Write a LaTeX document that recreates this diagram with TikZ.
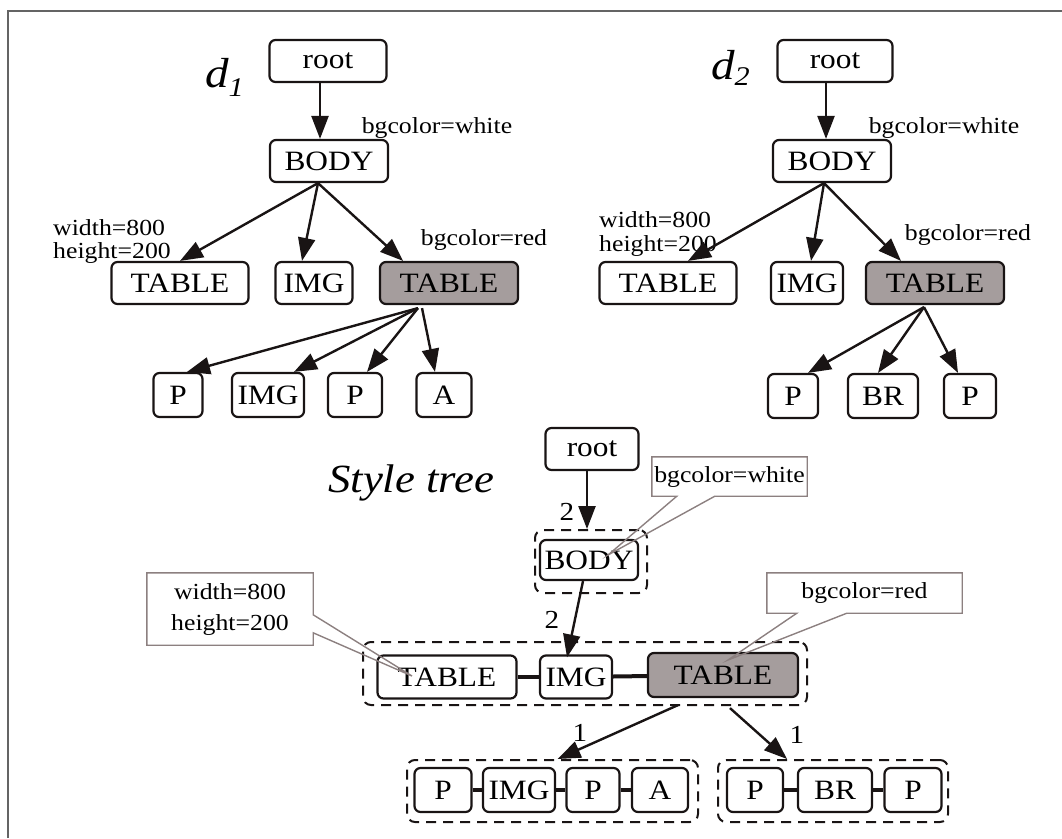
\documentclass[tikz,border=0pt]{standalone}
\usepackage{fontspec}
\setmainfont{Liberation Serif}[FakeStretch=1.12]
\usetikzlibrary{arrows.meta,calc}
\definecolor{boxc}{RGB}{25,20,20}
\definecolor{callc}{RGB}{140,128,128}
\definecolor{tablefill}{RGB}{165,157,157}
\definecolor{framec}{RGB}{100,100,100}
\newcommand\nodefont{\fontsize{28}{30}\selectfont}
\newcommand\lblfont{\fontsize{23}{25}\selectfont}
\newcommand\numfont{\fontsize{26}{28}\selectfont}
\begin{document}
\begin{tikzpicture}[x=1pt,y=-1pt,
  box/.style={draw=boxc, line width=2.2, rounded corners=6, minimum height=42, inner sep=0, font=\nodefont},
  shaded/.style={box, fill=tablefill},
  lbl/.style={font=\lblfont, inner sep=0},
  num/.style={font=\numfont, inner sep=0},
  arr/.style={draw=boxc, line width=2.4, -{Triangle[length=23,width=17]}},
  grp/.style={draw=boxc, line width=2, dash pattern=on 10pt off 7pt, rounded corners=8, inner sep=0},
  link/.style={draw=boxc, line width=4},
  call/.style={draw=callc, line width=1.4},
  calltext/.style={font=\lblfont, inner sep=0, align=center}]
\useasboundingbox (0,0) rectangle (1062,838);
\draw[framec, line width=1.8] (8,838) -- (8,11) -- (1062,11);

% ---------------- d1 ----------------
\node[anchor=base west, inner sep=0, font=\fontsize{42}{42}\selectfont\itshape] (d1) at (205,87) {d\raisebox{-0.22em}{\fontsize{27}{27}\selectfont 1}};
\node[box, minimum width=117] (r1) at (328,61) {root};
\node[box, minimum width=118] (b1) at (329,161) {BODY};
\node[box, minimum width=137] (t1a) at (180,283) {TABLE};
\node[box, minimum width=77] (i1) at (314,283) {IMG};
\node[shaded, minimum width=138] (t1b) at (449,283) {TABLE};
\node[box, minimum width=49, minimum height=44] (p1a) at (178,395) {P};
\node[box, minimum width=72, minimum height=44] (i1b) at (268,395) {IMG};
\node[box, minimum width=54, minimum height=44] (p1b) at (355,395) {P};
\node[box, minimum width=55, minimum height=44] (a1) at (444,395) {A};
\node[lbl, anchor=base] (bw1) at (437,133) {bgcolor=white};
\node[lbl, anchor=base] (br1) at (484,245) {bgcolor=red};
\node[lbl, anchor=base west] (w1) at (53,235) {width=800};
\node[lbl, anchor=base west] (h1) at (53,258) {height=200};
\draw[arr] ([xshift=-8]r1.south) -- ([xshift=-9]b1.north);
\draw[arr] ([xshift=-11]b1.south) -- (t1a.north);
\draw[arr] ([xshift=-11]b1.south) -- ([xshift=-12]i1.north);
\draw[arr] ([xshift=-11]b1.south) -- ([xshift=-46]t1b.north);
\draw[arr] ([xshift=-31,yshift=-3]t1b.south) -- ([xshift=9]p1a.north);
\draw[arr] ([xshift=-31,yshift=-3]t1b.south) -- ([xshift=26]i1b.north);
\draw[arr] ([xshift=-31,yshift=-3]t1b.south) -- ([xshift=12]p1b.north);
\draw[arr] ([xshift=-27,yshift=-3]t1b.south) -- ([xshift=-9]a1.north);

% ---------------- d2 ----------------
\node[anchor=base west, inner sep=0, font=\fontsize{42}{42}\selectfont\itshape] (d2) at (711,79) {d\raisebox{-0.15em}{\fontsize{27}{27}\selectfont 2}};
\node[box, minimum width=115] (r2) at (835,61) {root};
\node[box, minimum width=118] (b2) at (832,161) {BODY};
\node[box, minimum width=137] (t2a) at (668,283) {TABLE};
\node[box, minimum width=72] (i2) at (807,283) {IMG};
\node[shaded, minimum width=138] (t2b) at (935,283) {TABLE};
\node[box, minimum width=50, minimum height=44] (p2a) at (793,396) {P};
\node[box, minimum width=70, minimum height=44] (br2) at (883,396) {BR};
\node[box, minimum width=52, minimum height=44] (p2b) at (970,396) {P};
\node[lbl, anchor=base] (bw2) at (944,133) {bgcolor=white};
\node[lbl, anchor=base] (brd2) at (968,240) {bgcolor=red};
\node[lbl, anchor=base west] (w2) at (599,227) {width=800};
\node[lbl, anchor=base west] (h2) at (599,251) {height=200};
\draw[arr] ([xshift=-9]r2.south) -- ([xshift=-6]b2.north);
\draw[arr] ([xshift=-8]b2.south) -- ([xshift=20]t2a.north);
\draw[arr] ([xshift=-8]b2.south) -- ([xshift=4]i2.north);
\draw[arr] ([xshift=-8]b2.south) -- ([xshift=-34]t2b.north);
\draw[arr] ([xshift=-11,yshift=-2]t2b.south) -- ([xshift=15]p2a.north);
\draw[arr] ([xshift=-11,yshift=-2]t2b.south) -- ([xshift=-5]br2.north);
\draw[arr] ([xshift=-11,yshift=-2]t2b.south) -- ([xshift=-12]p2b.north);

% ---------------- Style tree ----------------
\node[anchor=base west, inner sep=0, font=\fontsize{40}{40}\selectfont\itshape] (stl) at (328,492) {Style tree};
% groups
\node[grp, minimum width=112, minimum height=63] (gb) at (591,561.5) {};
\node[grp, minimum width=444, minimum height=63] (g2) at (585,673.5) {};
\node[grp, minimum width=291, minimum height=62] (gl) at (552.5,791) {};
\node[grp, minimum width=230, minimum height=62] (gr) at (833,791) {};
% nodes
\node[box, minimum width=93] (sr) at (592,449) {root};
\node[box, minimum width=98, minimum height=40] (sb) at (589,560) {BODY};
\node[box, minimum width=139, minimum height=43] (st1) at (447,677) {TABLE};
\node[box, minimum width=72, minimum height=43] (si) at (576,677) {IMG};
\node[shaded, minimum width=150, minimum height=44] (st2) at (723,675) {TABLE};
\node[box, minimum width=57, minimum height=44] (q1) at (443,790) {P};
\node[box, minimum width=72, minimum height=44] (q2) at (519,790) {IMG};
\node[box, minimum width=53, minimum height=44] (q3) at (593,790) {P};
\node[box, minimum width=56, minimum height=44] (q4) at (660,790) {A};
\node[box, minimum width=56, minimum height=44] (u1) at (755,790) {P};
\node[box, minimum width=74, minimum height=44] (u2) at (835,790) {BR};
\node[box, minimum width=57, minimum height=44] (u3) at (913,790) {P};
% links
\draw[link] (st1) -- (si);
\draw[link] (si) -- (st2);
\draw[link] (q1) -- (q2);
\draw[link] (q2) -- (q3);
\draw[link] (q3) -- (q4);
\draw[link] (u1) -- (u2);
\draw[link] (u2) -- (u3);
% arrows
\draw[arr] ([xshift=-5]sr.south) -- ([xshift=-4]gb.north);
\draw[arr] ([xshift=-6]sb.south) -- ([xshift=-9,yshift=-3]si.north);
\draw[arr] ([xshift=-45,yshift=-7]st2.south) -- ([xshift=5]gl.north);
\draw[arr] ([xshift=7,yshift=-10]st2.south) -- ([xshift=-46]gr.north);
\node[num] (n2a) at (567,512) {2};
\node[num] (n2b) at (552,620) {2};
\node[num] (n1a) at (580,733) {1};
\node[num] (n1b) at (797,735) {1};
% callouts
\node[calltext, minimum width=155, minimum height=39] (cw) at (729.5,476.5) {bgcolor=white};
\coordinate (cwt) at (608,555);
\draw[call] (cw.south west) -- (cw.north west) -- (cw.north east) -- (cw.south east)
  -- ($(cw.south west)+(63,0)$) -- (cwt) -- ($(cw.south west)+(25,0)$) -- cycle;
\node[calltext, minimum width=166, minimum height=77, font=\fontsize{23}{31}\selectfont] (cwh) at (230,609) {width=800\\height=200};
\coordinate (cwht) at (412,676);
\draw[call] ([yshift=2.5]cwh.south west) -- ([yshift=-2.5]cwh.north west) -- ([yshift=-2.5]cwh.north east) -- ($(cwh.north east)+(0,44.5)$)
  -- (cwht) -- ($(cwh.north east)+(0,62.5)$) -- ([yshift=2.5]cwh.south east) -- cycle;
\node[calltext, minimum width=195, minimum height=40] (cr) at (864.5,593) {bgcolor=red};
\coordinate (crt) at (728,660);
\draw[call] (cr.south west) -- (cr.north west) -- (cr.north east) -- (cr.south east)
  -- ($(cr.south west)+(80,0)$) -- (crt) -- ($(cr.south west)+(30,0)$) -- cycle;
\end{tikzpicture}
\end{document}
